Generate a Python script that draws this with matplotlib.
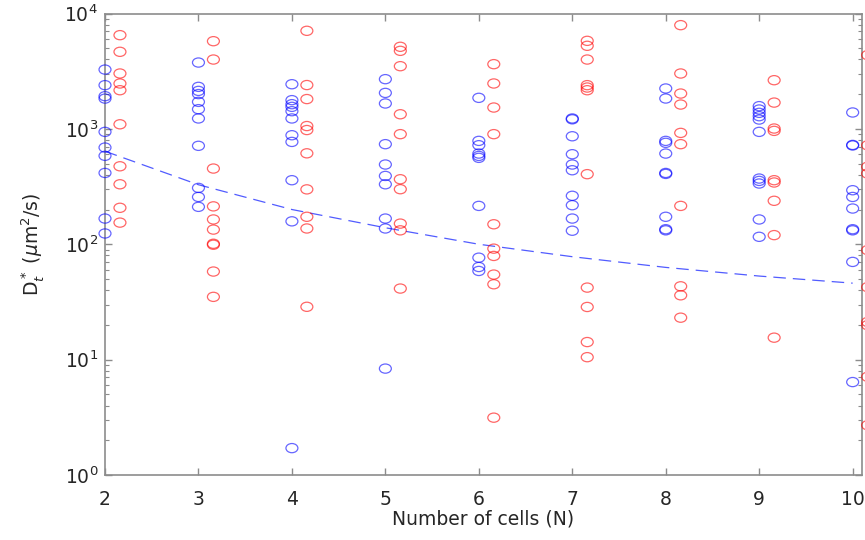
"""
Translational diffusion coefficient D_t* vs number of cells N.
Blue / red circles are the two groups, dashed line is the fitted trend.
"""

import matplotlib
matplotlib.use("Agg")
import matplotlib.pyplot as plt
from matplotlib.path import Path
from matplotlib.transforms import Affine2D
from matplotlib.ticker import LogLocator, NullFormatter

# ── Data ──────────────────────────────────────────────────────────────────────
N_CELLS = [2, 3, 4, 5, 6, 7, 8, 9, 10]

BLUE = {
    2: [3266, 2393, 1920, 1830, 942, 689, 584, 415, 167, 124],
    3: [3758, 2313, 2134, 2003, 1714, 1482, 1231, 713, 308, 257, 211],
    4: [2438, 1774, 1637, 1552, 1423, 1231, 881, 771, 359, 158, 1.71],
    5: [2697, 2050, 1660, 737, 491, 391, 331, 167, 137, 8.36],
    6: [1858, 787, 722, 611, 583, 561, 215, 76.5, 63.5, 58.7],
    7: [1231, 1210, 863, 603, 491, 438, 263, 218, 167, 131],
    8: [2239, 1833, 787, 757, 611, 415, 407, 173, 135, 132],
    9: [1574, 1472, 1377, 1288, 1205, 942, 371, 354, 336, 164, 116],
    10: [1387, 726, 718, 294, 257, 204, 135, 132, 70.3, 6.39],
}

RED = {
    2: [6490, 4655, 3020, 2474, 2163, 1096, 474, 331, 207, 154],
    3: [5754, 3990, 453, 213, 164, 134, 101, 99, 58, 35],
    4: [7080, 2398, 1813, 1058, 977, 614, 299, 173, 137, 28.7],
    5: [5145, 4747, 3494, 1339, 900, 366, 300, 151, 132, 41.3],
    6: [3638, 2474, 1531, 900, 149, 91.6, 79.2, 54.6, 45.0, 3.14],
    7: [5795, 5248, 3990, 2393, 2282, 2163, 405, 42.1, 28.6, 14.2, 10.5],
    8: [7925, 3020, 2024, 1625, 923, 737, 215, 43.2, 36.1, 23.1],
    9: [2642, 1690, 1007, 961, 359, 343, 238, 120, 15.5],
    10: [4360, 720, 470, 410, 89, 42.5, 21.2, 19.9, 7.1, 2.7],
}

TREND = [640, 328, 200, 139, 100, 78, 63, 53, 46]

RED_SHIFT = 0.16   # red group drawn slightly right of each N

# ── Style ──────────────────────────────────────────────────────────────────────
plt.rcParams["font.family"] = ["DejaVu Sans"]
plt.rcParams["mathtext.fontset"] = "dejavusans"
TXT = "#262626"
AX_GREY = "#8c8c8c"
FS = 13.5

# circles in the source are slightly wider than tall
ellipse = Path.unit_circle().transformed(Affine2D().scale(1.3, 1.0))

fig = plt.figure(figsize=(8.65, 5.4), dpi=100)
ax = fig.add_axes([105 / 865, 65 / 540, 757 / 865, 461.5 / 540])

for n in N_CELLS:
    ax.scatter([n] * len(BLUE[n]), BLUE[n], s=74, marker=ellipse,
               facecolors="none", edgecolors=(0, 0, 1, 0.6), linewidths=0.9,
               clip_on=False, zorder=3)
    ax.scatter([n + RED_SHIFT] * len(RED[n]), RED[n], s=74, marker=ellipse,
               facecolors="none", edgecolors=(1, 0, 0, 0.6), linewidths=0.9,
               clip_on=False, zorder=3)

trend, = ax.plot(N_CELLS, TREND, color=(0.15, 0.2, 1.0, 0.8), lw=0.9, zorder=2)
trend.set_dashes((10, 5.6))

# ── Axes ───────────────────────────────────────────────────────────────────────
ax.set_yscale("log")
ax.set_xlim(2, 10.1)
ax.set_ylim(1, 1e4)
ax.set_xticks(N_CELLS)
ax.yaxis.set_major_locator(LogLocator(base=10, numticks=10))
ax.yaxis.set_minor_locator(LogLocator(base=10, subs=range(2, 10), numticks=50))
ax.yaxis.set_minor_formatter(NullFormatter())

for sp in ax.spines.values():
    sp.set_color(AX_GREY)
    sp.set_linewidth(1.2)

ax.tick_params(axis="both", which="both", direction="in", color=AX_GREY,
               top=True, right=True, labelcolor=TXT, labelsize=FS)
ax.tick_params(axis="both", which="major", length=5, width=1)
ax.tick_params(axis="y", which="minor", length=3, width=0.8)
ax.tick_params(axis="x", which="major", pad=10.5)
ax.tick_params(axis="y", which="major", pad=5)

ax.set_xlabel("Number of cells (N)", fontsize=FS, color=TXT, labelpad=0.5)
ax.set_ylabel(r"D$_t^*$ ($\mu$m$^2$/s)", fontsize=FS, color=TXT, labelpad=13)

fig.savefig("out.png", dpi=100)
